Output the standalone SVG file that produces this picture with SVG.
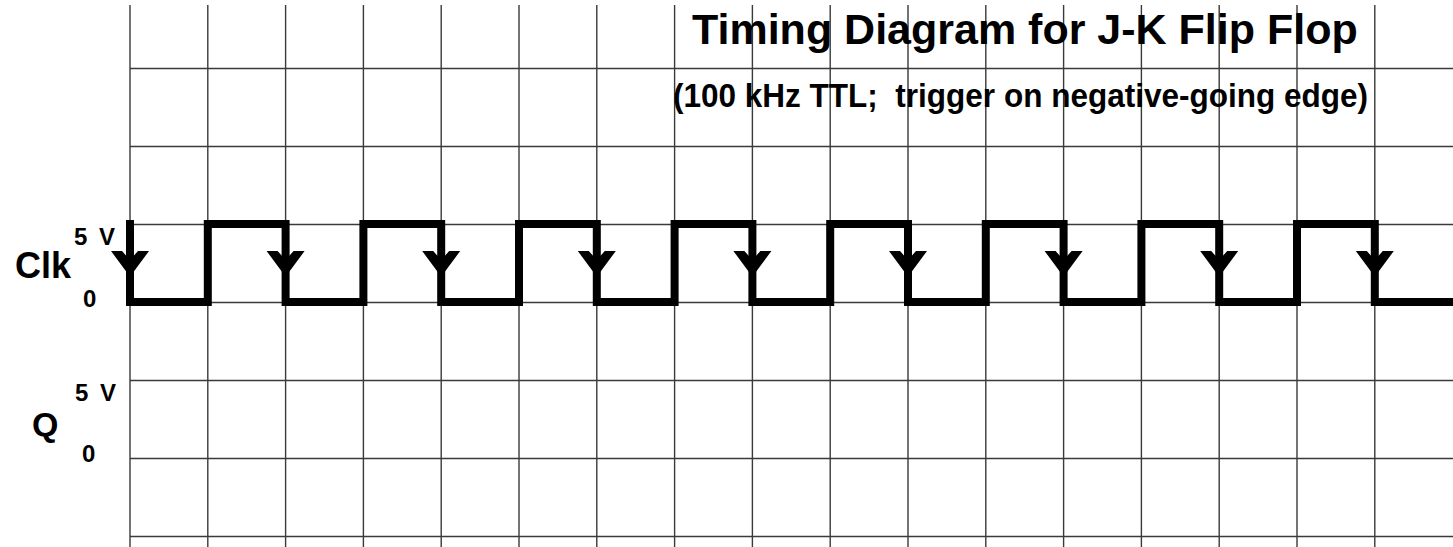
<svg xmlns="http://www.w3.org/2000/svg" xmlns:xlink="http://www.w3.org/1999/xlink" width="1453" height="547" viewBox="0 0 1453 547">
<style>
.grid{stroke:#3a3a3a;stroke-width:1.4;fill:none}
.sig{stroke:#000;stroke-width:8;fill:none;stroke-linejoin:miter;stroke-linecap:square}
.t{font-family:"Liberation Sans",Arial,sans-serif;font-weight:bold;fill:#000}
</style>
<defs>
<path id="arr" d="M-19,27 L-8,27 L0,36 L8,27 L19,27 L2,50 L-2,50 Z" fill="#000"/>
</defs>
<rect width="1453" height="547" fill="#fff"/>
<g id="grid" class="grid">
<path d="M130,68.5H1453M130,146.5H1453M130,224.5H1453M130,302.5H1453M130,380.5H1453M130,458.5H1453M130,536.5H1453"/>
<path d="M130,5V547M207.8,5V547M285.6,5V547M363.4,5V547M441.2,5V547M519,5V547M596.8,5V547M674.6,5V547M752.4,5V547M830.2,5V547M908,5V547M985.8,5V547M1063.6,5V547M1141.4,5V547M1219.2,5V547M1297,5V547M1374.8,5V547"/>
</g>
<g id="clock">
<path class="sig" d="M130,224V302H207.8V224H285.6V302H363.4V224H441.2V302H519V224H596.8V302H674.6V224H752.4V302H830.2V224H908V302H985.8V224H1063.6V302H1141.4V224H1219.2V302H1297V224H1374.8V302H1457"/>
<use xlink:href="#arr" x="130" y="224"/>
<use xlink:href="#arr" x="285.6" y="224"/>
<use xlink:href="#arr" x="441.2" y="224"/>
<use xlink:href="#arr" x="596.8" y="224"/>
<use xlink:href="#arr" x="752.4" y="224"/>
<use xlink:href="#arr" x="908" y="224"/>
<use xlink:href="#arr" x="1063.6" y="224"/>
<use xlink:href="#arr" x="1219.2" y="224"/>
<use xlink:href="#arr" x="1374.8" y="224"/>
</g>
<g id="labels">
<text class="t" x="692" y="44" font-size="43">Timing Diagram for J-K Flip Flop</text>
<text class="t" x="673" y="107" font-size="34" textLength="695" lengthAdjust="spacingAndGlyphs" xml:space="preserve">(100 kHz TTL;  trigger on negative-going edge)</text>
<text class="t" x="15" y="278" font-size="36">Clk</text>
<text class="t" x="74" y="245" font-size="24" textLength="41" lengthAdjust="spacing">5 V</text>
<text class="t" x="83" y="307" font-size="24">0</text>
<text class="t" x="32" y="436" font-size="34">Q</text>
<text class="t" x="75" y="401" font-size="24" textLength="41" lengthAdjust="spacing">5 V</text>
<text class="t" x="82" y="462" font-size="24">0</text>
</g>
</svg>
